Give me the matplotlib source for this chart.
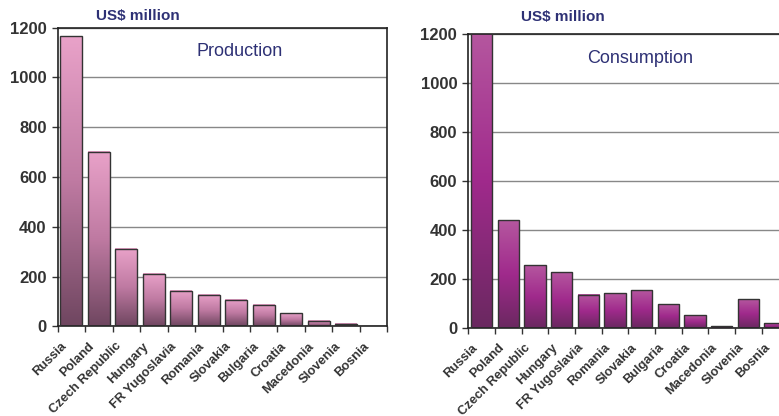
import matplotlib
matplotlib.use('Agg')
import matplotlib.pyplot as plt
import numpy as np
from matplotlib.colors import LinearSegmentedColormap

plt.rcParams['font.family'] = ['Liberation Sans', 'DejaVu Sans']

countries = ['Russia', 'Poland', 'Czech Republic', 'Hungary', 'FR Yugoslavia', 'Romania',
             'Slovakia', 'Bulgaria', 'Croatia', 'Macedonia', 'Slovenia', 'Bosnia']
production = [1165, 700, 310, 210, 142, 127, 108, 86, 52, 23, 11, 0]
consumption = [1210, 440, 257, 226, 135, 142, 153, 98, 52, 8, 118, 20]
yticks = [0, 200, 400, 600, 800, 1000, 1200]

navy = '#2e3175'
prod_cmap = LinearSegmentedColormap.from_list('prod', ['#6f4660', '#bf7aa2', '#e9a2c9'])
cons_cmap = LinearSegmentedColormap.from_list('cons', ['#6a2860', '#a02a8c', '#b5579f'])


def draw_panel(ax, values, cmap, title, title_xy):
    ind = np.arange(len(values))
    bars = ax.bar(ind, values, width=0.8, facecolor='none', edgecolor='#333333',
                  linewidth=1.0, zorder=3)
    grad = np.linspace(0, 1, 256).reshape(-1, 1)
    for p in bars.patches:
        x0, w, h = p.get_x(), p.get_width(), p.get_height()
        if h <= 0:
            continue
        ax.imshow(grad, cmap=cmap, origin='lower', aspect='auto',
                  extent=(x0, x0 + w, 0, h), zorder=2, interpolation='bilinear')

    ax.set_xlim(-0.5, len(values) - 0.5)
    ax.set_ylim(0, 1200)
    ax.set_yticks(yticks)
    ax.set_yticklabels([str(t) for t in yticks], fontsize=12, fontweight='bold', color='#333333')
    ax.yaxis.grid(True, color='#888888', linewidth=1.0, zorder=1)
    ax.set_axisbelow(True)

    # tick marks sit on category boundaries; rotated labels hang just left of each centre
    ax.set_xticks(np.arange(-0.5, len(values)))
    ax.set_xticklabels([])
    ax.set_xticks(ind - 0.4, minor=True)
    ax.set_xticklabels(countries, minor=True, rotation=45, ha='right', va='top',
                       rotation_mode='anchor', fontsize=9.3, fontweight='bold', color='#333333')
    ax.tick_params(axis='x', which='minor', length=0, pad=10)
    ax.tick_params(axis='x', which='major', length=4, width=1, color='#333333')
    ax.tick_params(axis='y', length=4, width=1, color='#333333', pad=4)

    for s in ax.spines.values():
        s.set_color('#222222')
        s.set_linewidth(1.2)

    ax.text(title_xy[0], title_xy[1], title, transform=ax.transAxes, ha='center', va='center',
            fontsize=13, color=navy)


fig = plt.figure(figsize=(7.79, 4.16), dpi=100)

ax1 = fig.add_axes([0.0741, 0.2154, 0.4231, 0.718])
draw_panel(ax1, production, prod_cmap, 'Production', (0.552, 0.919))

ax2 = fig.add_axes([0.6012, 0.2123, 0.4108, 0.706])
draw_panel(ax2, consumption, cons_cmap, 'Consumption', (0.537, 0.915))

fig.text(0.177, 0.9615, 'US$ million', ha='center', va='center', fontsize=11,
         fontweight='bold', color=navy)
fig.text(0.722, 0.959, 'US$ million', ha='center', va='center', fontsize=11,
         fontweight='bold', color=navy)

fig.savefig('out.png', dpi=100)
